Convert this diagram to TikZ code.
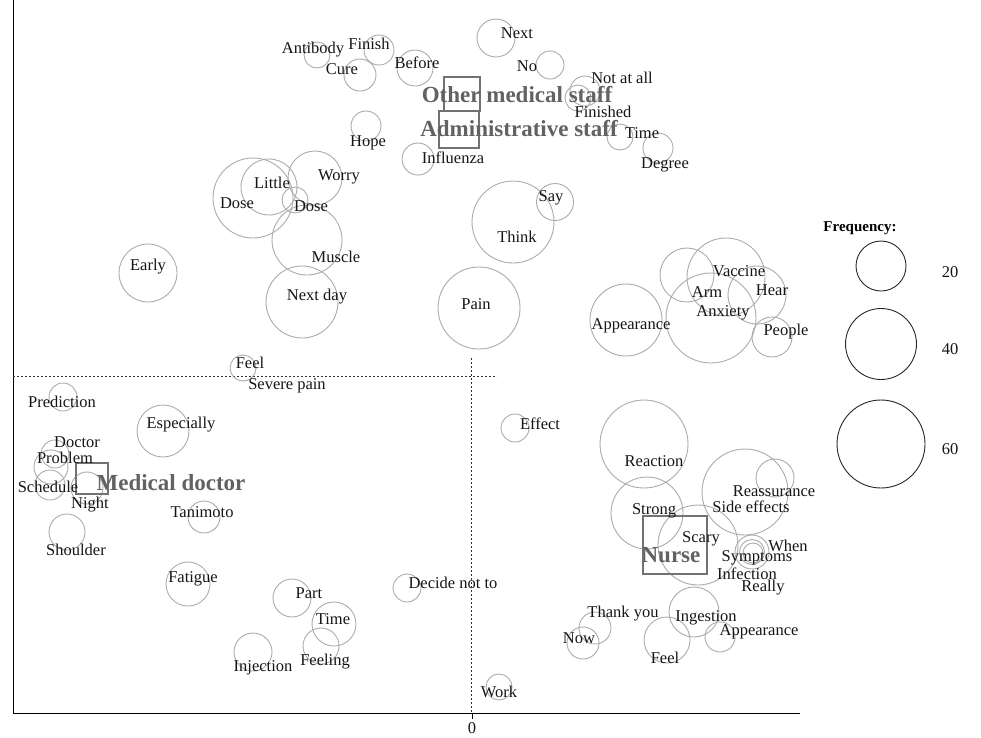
\documentclass[tikz,border=0pt]{standalone}
\usepackage{fontspec}
\setmainfont{Liberation Serif}
\definecolor{bubgray}{HTML}{ABABAB}
\definecolor{catgray}{HTML}{626262}
\definecolor{txt}{HTML}{151515}
\begin{document}
\begin{tikzpicture}[x=1pt,y=-1pt,
  bub/.style={circle,draw=bubgray,line width=0.9pt,inner sep=0pt,minimum size=#1},
  leg/.style={circle,draw=black!85,line width=0.9pt,inner sep=0pt,minimum size=#1},
  wd/.style={inner sep=0pt,text=txt,font=\fontsize{16.5}{18}\selectfont},
  cat/.style={inner sep=0pt,text=catgray,font=\fontsize{23}{25}\selectfont\bfseries},
  catbox/.style={draw=catgray!90,line width=1.4pt},
  axisline/.style={line width=1pt,black},
  guide/.style={line width=0.6pt,black!80,dash pattern=on 2pt off 2pt}]
\useasboundingbox (0,0) rectangle (981,737);
% axes
\coordinate (ytop) at (13,0);
\coordinate (orig) at (13,713);
\coordinate (xend) at (800,713);
\coordinate (tick) at (472,713);
\coordinate (tickb) at (472,719);
\draw[axisline] (ytop) -- (orig) -- (xend);
\draw[axisline] (tick) -- (tickb);
\node[wd] (zero) at (472,728) {0};
\coordinate (hl) at (13,376);
\coordinate (hr) at (497,376);
\coordinate (vt) at (471,358);
\coordinate (vb) at (471,713);
\draw[guide] (hl) -- (hr);
\draw[guide] (vt) -- (vb);
% ---------- bubbles ----------
\node[bub=26] (c1) at (317,55) {};
\node[bub=30] (c2) at (379,50) {};
\node[bub=32] (c3) at (360,75) {};
\node[bub=36] (c4) at (415,68) {};
\node[bub=30] (c5) at (366,126) {};
\node[bub=32] (c6) at (418,159) {};
\node[bub=38] (c7) at (496,38) {};
\node[bub=28] (c8) at (550,65) {};
\node[bub=30] (c9) at (585,91) {};
\node[bub=26] (c10) at (578,98) {};
\node[bub=26] (c11) at (620,137) {};
\node[bub=30] (c12) at (658,148) {};
\node[bub=80] (c13) at (253,198) {};
\node[bub=56] (c14) at (269,187) {};
\node[bub=54] (c15) at (315,178) {};
\node[bub=26] (c16) at (295,200) {};
\node[bub=70] (c17) at (307,240) {};
\node[bub=72] (c18) at (302,302) {};
\node[bub=58] (c19) at (148,273) {};
\node[bub=26] (c20) at (243,368) {};
\node[bub=82] (c21) at (513,222) {};
\node[bub=37] (c22) at (555,202) {};
\node[bub=82] (c23) at (479,308) {};
\node[bub=72] (c24) at (626,320) {};
\node[bub=54] (c25) at (687,275) {};
\node[bub=78] (c26) at (726,277) {};
\node[bub=90] (c27) at (711,318) {};
\node[bub=58] (c28) at (757,295) {};
\node[bub=40] (c29) at (772,337) {};
\node[bub=28] (c30) at (63,397) {};
\node[bub=52] (c31) at (163,431) {};
\node[bub=28] (c32) at (55,454) {};
\node[bub=34] (c33) at (51,467) {};
\node[bub=30] (c34) at (50,485) {};
\node[bub=32] (c35) at (87,488) {};
\node[bub=32] (c36) at (204,517) {};
\node[bub=36] (c37) at (67,532) {};
\node[bub=28] (c38) at (515,428) {};
\node[bub=88] (c39) at (644,444) {};
\node[bub=72] (c40) at (647,513) {};
\node[bub=80] (c41) at (698,545) {};
\node[bub=86] (c42) at (745,492) {};
\node[bub=38] (c43) at (775,478) {};
\node[bub=34] (c44) at (752,552) {};
\node[bub=25] (c45) at (752,552) {};
\node[bub=20] (c46) at (753,553) {};
\node[bub=32] (c47) at (595,628) {};
\node[bub=32] (c48) at (583,643) {};
\node[bub=50] (c49) at (694,612) {};
\node[bub=30] (c50) at (720,637) {};
\node[bub=46] (c51) at (667,640) {};
\node[bub=44] (c52) at (188,584) {};
\node[bub=38] (c53) at (292,598) {};
\node[bub=44] (c54) at (334,624) {};
\node[bub=36] (c55) at (321,646) {};
\node[bub=38] (c56) at (253,652) {};
\node[bub=28] (c57) at (407,588) {};
\node[bub=26] (c58) at (499,687) {};
% ---------- category boxes ----------
\coordinate (b1a) at (444,77);  \coordinate (b1b) at (480,111);
\coordinate (b2a) at (439,111); \coordinate (b2b) at (479,148);
\coordinate (b3a) at (76,463);  \coordinate (b3b) at (108,494);
\coordinate (b4a) at (643,516); \coordinate (b4b) at (707,574);
\draw[catbox] (b1a) rectangle (b1b);
\draw[catbox] (b2a) rectangle (b2b);
\draw[catbox] (b3a) rectangle (b3b);
\draw[catbox] (b4a) rectangle (b4b);
% ---------- word labels ----------
\node[wd] (t1) at (313,50) {Antibody};
\node[wd] (t2) at (369,44) {Finish};
\node[wd] (t3) at (342,69) {Cure};
\node[wd] (t4) at (417,63) {Before};
\node[wd] (t5) at (368,143) {Hope};
\node[wd] (t6) at (453,158) {Influenza};
\node[wd] (t7) at (517,33) {Next};
\node[wd] (t8) at (527,66) {No};
\node[wd] (t9) at (622,78) {Not at all};
\node[wd] (t10) at (603,112) {Finished};
\node[wd] (t11) at (642,133) {Time};
\node[wd] (t12) at (665,165) {Degree};
\node[wd] (t13) at (237,203) {Dose};
\node[wd] (t14) at (272,183) {Little};
\node[wd] (t15) at (339,177) {Worry};
\node[wd] (t16) at (311,206) {Dose};
\node[wd] (t17) at (336,257) {Muscle};
\node[wd] (t18) at (317,297) {Next day};
\node[wd] (t19) at (148,267) {Early};
\node[wd] (t20) at (250,363) {Feel};
\node[wd] (t21) at (287,386) {Severe pain};
\node[wd] (t22) at (517,237) {Think};
\node[wd] (t23) at (551,198) {Say};
\node[wd] (t24) at (476,304) {Pain};
\node[wd] (t25) at (631,326) {Appearance};
\node[wd] (t26) at (707,292) {Arm};
\node[wd] (t27) at (739,271) {Vaccine};
\node[wd] (t28) at (723,313) {Anxiety};
\node[wd] (t29) at (772,290) {Hear};
\node[wd] (t30) at (786,332) {People};
\node[wd] (t31) at (62,402) {Prediction};
\node[wd] (t32) at (181,425) {Especially};
\node[wd] (t33) at (77,442) {Doctor};
\node[wd] (t34) at (65,458) {Problem};
\node[wd] (t35) at (48,487) {Schedule};
\node[wd] (t36) at (90,505) {Night};
\node[wd] (t37) at (202,512) {Tanimoto};
\node[wd] (t38) at (76,550) {Shoulder};
\node[wd] (t39) at (540,424) {Effect};
\node[wd] (t40) at (654,461) {Reaction};
\node[wd] (t41) at (654,511) {Strong};
\node[wd] (t42) at (701,539) {Scary};
\node[wd] (t43) at (751,507) {Side effects};
\node[wd] (t44) at (774,491) {Reassurance};
\node[wd] (t45) at (788,546) {When};
\node[wd] (t46) at (757,558) {Symptoms};
\node[wd] (t47) at (747,574) {Infection};
\node[wd] (t48) at (763,588) {Really};
\node[wd] (t49) at (623,614) {Thank you};
\node[wd] (t50) at (579,638) {Now};
\node[wd] (t51) at (706,618) {Ingestion};
\node[wd] (t52) at (759,632) {Appearance};
\node[wd] (t53) at (665,658) {Feel};
\node[wd] (t54) at (193,579) {Fatigue};
\node[wd] (t55) at (309,593) {Part};
\node[wd] (t56) at (333,619) {Time};
\node[wd] (t57) at (325,662) {Feeling};
\node[wd] (t58) at (263,668) {Injection};
\node[wd] (t59) at (453,583) {Decide not to};
\node[wd] (t60) at (499,692) {Work};
% ---------- category labels ----------
\node[cat] (k1) at (517,95) {Other medical staff};
\node[cat] (k2) at (519,129) {Administrative staff};
\node[cat] (k3) at (171,483) {Medical doctor};
\node[cat] (k4) at (671,555) {Nurse};
% ---------- legend ----------
\node[inner sep=0pt,font=\fontsize{15}{17}\selectfont\bfseries,text=black] (lt) at (860,228) {Frequency:};
\node[leg=50] (l1) at (881,266) {};
\node[leg=71] (l2) at (881,344) {};
\node[leg=88] (l3) at (881,444) {};
\node[wd] (n1) at (950,272) {20};
\node[wd] (n2) at (950,349) {40};
\node[wd] (n3) at (950,449) {60};
\end{tikzpicture}
\end{document}
